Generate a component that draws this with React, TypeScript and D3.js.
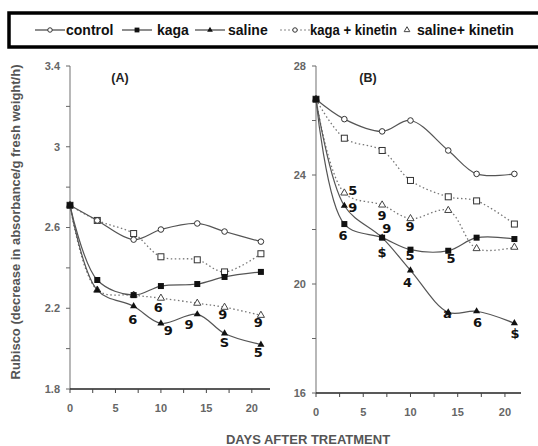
import React from "react";
import * as d3 from "d3";

const days = [0, 3, 7, 10, 14, 17, 21];
const seriesNames = ["control", "kaga", "saline", "kaga + kinetin", "saline+ kinetin"];

// Panel A values
const aControl = [2.71, 2.635, 2.54, 2.59, 2.62, 2.58, 2.53];
const aKaga = [2.71, 2.34, 2.265, 2.31, 2.32, 2.355, 2.38];
const aSaline = [2.71, 2.29, 2.21, 2.125, 2.17, 2.075, 2.02];
const aKagaKin = [2.71, 2.635, 2.57, 2.455, 2.44, 2.38, 2.47];
const aSalineKin = [2.71, 2.29, 2.265, 2.25, 2.225, 2.205, 2.165];

// Panel B values
const bControl = [26.78, 26.05, 25.6, 26.0, 24.9, 24.04, 24.04];
const bKaga = [26.78, 22.2, 21.7, 21.26, 21.22, 21.7, 21.65];
const bSaline = [26.78, 22.87, 21.7, 20.5, 18.96, 19.0, 18.56];
const bKagaKin = [26.78, 25.35, 24.9, 23.8, 23.2, 23.05, 22.2];
const bSalineKin = [26.78, 23.34, 22.9, 22.4, 22.7, 21.3, 21.35];

const xTicks = [0, 5, 10, 15, 20];
const aYTicks = [1.8, 2.2, 2.6, 3, 3.4];
const bYTicks = [16, 20, 24, 28];

// significance letters: [day, value, text]
const aLetters: [number, number, string][] = [
  [6.9, 2.146, "6"], [9.7, 2.205, "6"], [10.8, 2.09, "9"], [13.1, 2.12, "9"],
  [16.8, 2.17, "9"], [20.7, 2.13, "9"], [17, 2.03, "S"], [20.7, 1.98, "5"],
];
const bLetters: [number, number, string][] = [
  [3.9, 23.45, "5"], [3.9, 22.83, "9"], [2.86, 21.8, "6"], [7.0, 22.53, "9"],
  [7.5, 22.06, "9"], [7.0, 21.17, "$"], [9.95, 22.1, "9"], [9.95, 21.06, "5"],
  [14.3, 20.95, "5"], [9.7, 20.07, "4"], [13.9, 18.94, "a"], [17.1, 18.6, "6"],
  [21.06, 18.2, "$"],
];

const LINE = "#555";
const FONT = "'Liberation Sans', Arial, sans-serif";

type Kind = "circle" | "fsquare" | "ftri" | "osquare" | "otri";
const kinds: Kind[] = ["circle", "fsquare", "ftri", "osquare", "otri"];
const dashed = [false, false, false, true, true];

function Marker({ kind, x, y, s = 1 }: { kind: Kind; x: number; y: number; s?: number }) {
  if (kind === "circle") return <circle cx={x} cy={y} r={2.8 * s} fill="white" stroke="#333" strokeWidth={1} />;
  if (kind === "fsquare") return <rect x={x - 3 * s} y={y - 3 * s} width={6 * s} height={6 * s} fill="#111" />;
  if (kind === "osquare") return <rect x={x - 3 * s} y={y - 3 * s} width={6 * s} height={6 * s} fill="white" stroke="#333" strokeWidth={1} />;
  const tri = d3.symbol().type(d3.symbolTriangle).size(22 * s * s)();
  if (kind === "ftri") return <path d={tri as string} transform={`translate(${x},${y})`} fill="#111" />;
  return <path d={tri as string} transform={`translate(${x},${y})`} fill="white" stroke="#444" strokeWidth={1} />;
}

function Panel({ series, x0, x1, y0, y1, domainY, yTicks, minorStep, xMax, letters, title, fmt }: any) {
  const x = d3.scaleLinear().domain([0, xMax]).range([x0, x1]);
  const y = d3.scaleLinear().domain(domainY).range([y1, y0]);
  const line = d3.line<number>().x((_, i) => x(days[i])).y((v) => y(v)).curve(d3.curveCatmullRom.alpha(0.5));
  const minor = d3.range(domainY[0], domainY[1] + 1e-9, minorStep);
  const xt = d3.range(0, xMax - 0.5, 2.5);
  const order = [3, 4, 0, 1, 2];
  return (
    <g>
      <line x1={x0} x2={x0} y1={y0} y2={y1} stroke="#888" strokeWidth={1.2} />
      {minor.map((t: number, i: number) => (
        <line key={"ym" + i} x1={x0 - 4} x2={x0} y1={y(t)} y2={y(t)} stroke="#666" strokeWidth={1} />
      ))}
      {yTicks.map((t: number) => (
        <text key={"yt" + t} x={x0 - 10} y={y(t)} dy="0.35em" textAnchor="end" fontSize={11} fontWeight="bold" fill="#666" fontFamily={FONT}>
          {fmt(t)}
        </text>
      ))}
      <line x1={x0} x2={x1} y1={y1} y2={y1} stroke="#222" strokeWidth={1.6} />
      {xt.map((t: number, i: number) => (
        <line key={"xm" + i} x1={x(t)} x2={x(t)} y1={y1} y2={y1 + 4} stroke="#444" strokeWidth={1} />
      ))}
      {xTicks.map((t) => (
        <text key={"xt" + t} x={x(t)} y={y1 + 23} textAnchor="middle" fontSize={11} fontWeight="bold" fill="#666" fontFamily={FONT}>
          {t}
        </text>
      ))}
      <text x={x(5.5)} y={y0 + 16} textAnchor="middle" fontSize={12.5} fontWeight="bold" fill="#222" fontFamily={FONT}>
        {title}
      </text>
      {order.map((k) => (
        <path key={"l" + k} d={line(series[k]) as string} fill="none" stroke={dashed[k] ? "#777" : LINE}
          strokeWidth={dashed[k] ? 1.3 : 1.2} strokeDasharray={dashed[k] ? "1.5,2.5" : undefined} />
      ))}
      {order.map((k) =>
        series[k].map((v: number, i: number) => <Marker key={"m" + k + "_" + i} kind={kinds[k]} x={x(days[i])} y={y(v)} />)
      )}
      {letters.map(([d, v, t]: [number, number, string], i: number) => (
        <text key={"lt" + i} x={x(d)} y={y(v)} dy="0.36em" textAnchor="middle" fontSize={13} fontWeight="bold" fill="#111" fontFamily="'DejaVu Sans', sans-serif">
          {t}
        </text>
      ))}
    </g>
  );
}

export default function App() {
  const legendX = [35, 122, 195, 280, 397];
  const legendTextX = [66, 157, 228, 310, 417];
  return (
    <svg width={538} height={446} style={{ position: "absolute", left: 0, top: 0, background: "white" }}>
      <rect x={0} y={0} width={538} height={446} fill="white" />
      <rect x={9} y={13} width={540} height={34} fill="white" stroke="#000" strokeWidth={3.5} />
      {seriesNames.map((n, k) => {
        const lx = legendX[k];
        return (
          <g key={"lg" + k}>
            {k < 4 && (
              <line x1={lx} x2={lx + 30} y1={30} y2={30} stroke={dashed[k] ? "#888" : "#444"} strokeWidth={1.2}
                strokeDasharray={dashed[k] ? "2,2" : undefined} />
            )}
            <Marker kind={k === 3 ? "circle" : kinds[k]} x={k < 4 ? lx + 15 : lx + 10} y={30} s={0.8} />
            <text x={legendTextX[k]} y={30} dy="0.36em" fontSize={14} fontWeight="bold" fill="#111" fontFamily={FONT}
              {...(k === 3 ? { textLength: 87, lengthAdjust: "spacingAndGlyphs" } : {})}>
              {n}
            </text>
          </g>
        );
      })}
      <Panel series={[aControl, aKaga, aSaline, aKagaKin, aSalineKin]} x0={70} x1={270} y0={66} y1={389}
        domainY={[1.8, 3.4]} yTicks={aYTicks} minorStep={0.2} xMax={22} letters={aLetters} title="(A)"
        fmt={(t: number) => (t === 3 ? "3" : t.toFixed(1))} />
      <Panel series={[bControl, bKaga, bSaline, bKagaKin, bSalineKin]} x0={316} x1={521} y0={66} y1={393}
        domainY={[16, 28]} yTicks={bYTicks} minorStep={2} xMax={21.7} letters={bLetters} title="(B)"
        fmt={(t: number) => String(t)} />
      <text transform="translate(20,222) rotate(-90)" textAnchor="middle" fontSize={13} fontWeight="bold" fill="#555" fontFamily={FONT}>
        Rubisco (decrease in absorbance/g fresh weight/h)
      </text>
      <text x={308} y={444} textAnchor="middle" fontSize={13} fontWeight="bold" fill="#555" fontFamily={FONT}>
        DAYS AFTER TREATMENT
      </text>
    </svg>
  );
}
